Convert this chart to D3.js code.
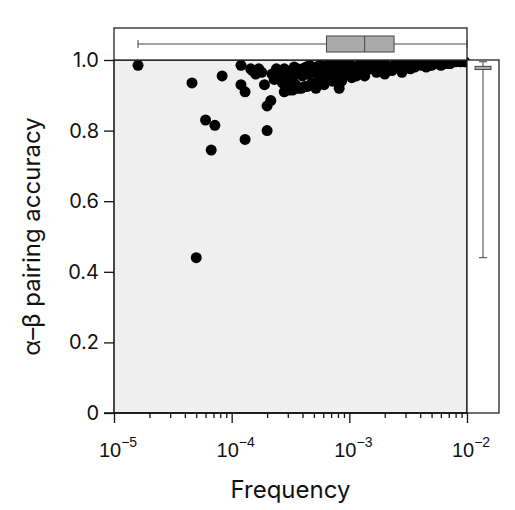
<!DOCTYPE html>
<html><head><meta charset="utf-8">
<script src="https://cdn.jsdelivr.net/npm/d3@7"></script>
<style>body{margin:0;background:#fff;font-family:Inter,"Noto Sans",sans-serif}</style>
</head><body><svg id="c"></svg>
<script>
// scatter data: frequency and alpha-beta pairing accuracy
const freq = [1.6e-5,4.6e-5,5.0e-5,6.0e-5,6.7e-5,7.2e-5,8.3e-5,1.2e-4,1.2e-4,1.3e-4,1.3e-4,1.45e-4,2.0e-4,2.0e-4,2.15e-4,1.9e-4,
  1.5e-4,1.6e-4,1.7e-4,1.8e-4,2.2e-4,2.4e-4,2.5e-4,2.6e-4,2.8e-4,3.0e-4,3.2e-4,3.4e-4,3.6e-4,3.8e-4,4.0e-4,4.3e-4,4.6e-4,5.0e-4,5.3e-4,5.6e-4,6.0e-4,6.5e-4,7.0e-4,7.5e-4,8.0e-4,8.5e-4,
  2.3e-4,2.7e-4,2.9e-4,3.1e-4,3.3e-4,3.5e-4,3.7e-4,4.2e-4,4.8e-4,5.5e-4,6.2e-4,7.2e-4,8.2e-4,
  2.5e-4,3.0e-4,3.5e-4,4.0e-4,4.5e-4,5.0e-4,5.8e-4,6.8e-4,7.8e-4,9.0e-4,
  2.8e-4,3.3e-4,3.9e-4,4.4e-4,5.2e-4,6.1e-4,
  9.5e-4,1.0e-3,1.1e-3,1.2e-3,1.3e-3,1.4e-3,1.5e-3,1.6e-3,1.8e-3,2.0e-3,2.2e-3,2.4e-3,2.6e-3,2.9e-3,3.2e-3,3.5e-3,3.9e-3,4.3e-3,4.8e-3,5.3e-3,5.9e-3,6.5e-3,7.2e-3,8.0e-3,8.8e-3,9.6e-3,
  1.0e-3,1.1e-3,1.25e-3,1.4e-3,1.6e-3,1.9e-3,2.1e-3,2.5e-3,3.0e-3,3.6e-3,4.1e-3,5.0e-3,6.0e-3,7.0e-3,
  8.8e-4,9.8e-4,1.15e-3,1.3e-3,1.7e-3,2.3e-3,3.3e-3,4.5e-3,
  6.3e-4,7.4e-4,8.6e-4,1.05e-3,1.35e-3,2.0e-3,2.8e-3];
const acc = [0.985,0.935,0.44,0.83,0.745,0.815,0.955,0.985,0.93,0.91,0.775,0.975,0.80,0.87,0.885,0.93,
  0.97,0.96,0.975,0.965,0.96,0.975,0.95,0.965,0.975,0.96,0.97,0.98,0.975,0.97,0.975,0.98,0.985,0.975,0.98,0.985,0.98,0.985,0.99,0.985,0.98,0.99,
  0.945,0.935,0.925,0.915,0.94,0.93,0.92,0.925,0.935,0.945,0.95,0.94,0.92,
  0.955,0.95,0.96,0.955,0.96,0.965,0.955,0.96,0.97,0.975,
  0.91,0.915,0.92,0.925,0.92,0.93,
  0.985,0.99,0.98,0.985,0.99,0.975,0.985,0.99,0.985,0.99,0.98,0.985,0.99,0.985,0.99,0.985,0.99,0.99,0.985,0.99,0.99,0.99,0.99,0.995,0.995,0.995,
  0.97,0.975,0.965,0.97,0.975,0.97,0.975,0.98,0.98,0.98,0.985,0.985,0.985,0.99,
  0.955,0.96,0.955,0.96,0.965,0.97,0.975,0.98,
  0.945,0.95,0.94,0.95,0.955,0.96,0.965];
// box summaries
const freqBox = {min:1.6e-5, q1:6.4e-4, med:1.35e-3, q3:2.4e-3, max:1e-2};
const accBox = {min:0.44, q1:0.973, med:0.977, q3:0.982, max:0.995};
const yTicks = [0,0.2,0.4,0.6,0.8,1.0];
const xExps = [-5,-4,-3,-2];

const W=515,H=510;
const L=114,R=467,T=60,B=413;
const svg=d3.select('#c').attr('width',W).attr('height',H);
const x=d3.scaleLog().domain([1e-5,1e-2]).range([L,R]);
const y=d3.scaleLinear().domain([0,1]).range([B,T]);

svg.append('rect').attr('x',L).attr('y',T).attr('width',R-L).attr('height',B-T).attr('fill','#efefef');

svg.append('g').selectAll('circle').data(freq.map((f,i)=>[f,acc[i]])).join('circle')
  .attr('cx',d=>x(d[0])).attr('cy',d=>y(d[1])).attr('r',5.5).attr('fill','#000');

svg.append('rect').attr('x',L).attr('y',T).attr('width',R-L).attr('height',B-T)
  .attr('fill','none').attr('stroke','#111').attr('stroke-width',1.5);

// top box panel
const tp={y0:28,y1:T};
svg.append('rect').attr('x',L).attr('y',tp.y0).attr('width',R-L).attr('height',tp.y1-tp.y0)
  .attr('fill','#fff').attr('stroke','#222').attr('stroke-width',1.3);
const cy=44,bh=16;
svg.append('line').attr('x1',x(freqBox.min)).attr('x2',x(freqBox.max)).attr('y1',cy).attr('y2',cy).attr('stroke','#444');
[freqBox.min,freqBox.max].forEach(v=>svg.append('line').attr('x1',x(v)).attr('x2',x(v)).attr('y1',cy-4).attr('y2',cy+4).attr('stroke','#444'));
svg.append('rect').attr('x',x(freqBox.q1)).attr('width',x(freqBox.q3)-x(freqBox.q1)).attr('y',cy-bh/2).attr('height',bh)
  .attr('fill','#aaa').attr('stroke','#444');
svg.append('line').attr('x1',x(freqBox.med)).attr('x2',x(freqBox.med)).attr('y1',cy-bh/2).attr('y2',cy+bh/2).attr('stroke','#444');

// right box panel
const rx0=R,rx1=499,cx=483,bw=16;
svg.append('rect').attr('x',rx0).attr('y',T).attr('width',rx1-rx0).attr('height',B-T)
  .attr('fill','#fff').attr('stroke','#222').attr('stroke-width',1.3);
svg.append('line').attr('x1',cx).attr('x2',cx).attr('y1',y(accBox.min)).attr('y2',y(accBox.max)).attr('stroke','#444');
[accBox.min,accBox.max].forEach(v=>svg.append('line').attr('x1',cx-4).attr('x2',cx+4).attr('y1',y(v)).attr('y2',y(v)).attr('stroke','#444'));
svg.append('rect').attr('x',cx-bw/2).attr('width',bw).attr('y',y(accBox.q3)).attr('height',y(accBox.q1)-y(accBox.q3))
  .attr('fill','#aaa').attr('stroke','#444');

// x axis
const minor=[];
for(let e=-5;e<-2;e++) for(let k=2;k<10;k++) minor.push(k*Math.pow(10,e));
const xg=svg.append('g').attr('transform',`translate(0,${B})`);
xg.call(d3.axisBottom(x).tickValues(xExps.map(e=>Math.pow(10,e))).tickSize(10).tickFormat(''))
  .call(g=>g.select('.domain').remove());
xg.append('g').call(d3.axisBottom(x).tickValues(minor).tickSize(5).tickFormat(''))
  .call(g=>g.select('.domain').remove());
xg.selectAll('line').attr('stroke','#111').attr('stroke-width',1.3);
xg.append('line').attr('x1',L-10).attr('x2',R).attr('stroke','#111').attr('stroke-width',1.5);
xExps.forEach(e=>{
  const t=xg.append('text').attr('x',x(Math.pow(10,e))+4).attr('y',44).attr('text-anchor','middle')
    .attr('fill','#111').attr('font-size',20);
  t.append('tspan').text('10');
  t.append('tspan').attr('dy',-10).attr('font-size',14).text('−'+(-e));
});
svg.append('text').attr('x',(L+R)/2).attr('y',498).attr('text-anchor','middle')
  .attr('font-size',24).attr('fill','#111').text('Frequency');

// y axis
const yg=svg.append('g').attr('transform',`translate(${L},0)`);
yg.call(d3.axisLeft(y).tickValues(yTicks).tickSize(10).tickPadding(5).tickFormat(d=>d===0?'0':d3.format('.1f')(d)))
  .call(g=>g.select('.domain').remove());
yg.selectAll('line').attr('stroke','#111').attr('stroke-width',1.3);
yg.selectAll('text').attr('font-size',20).attr('fill','#111').attr('font-family','Inter,"Noto Sans",sans-serif');
svg.append('text').attr('transform',`translate(40,${(T+B)/2}) rotate(-90)`).attr('text-anchor','middle')
  .attr('font-size',24).attr('fill','#111').text('α–β pairing accuracy');
</script></body></html>
